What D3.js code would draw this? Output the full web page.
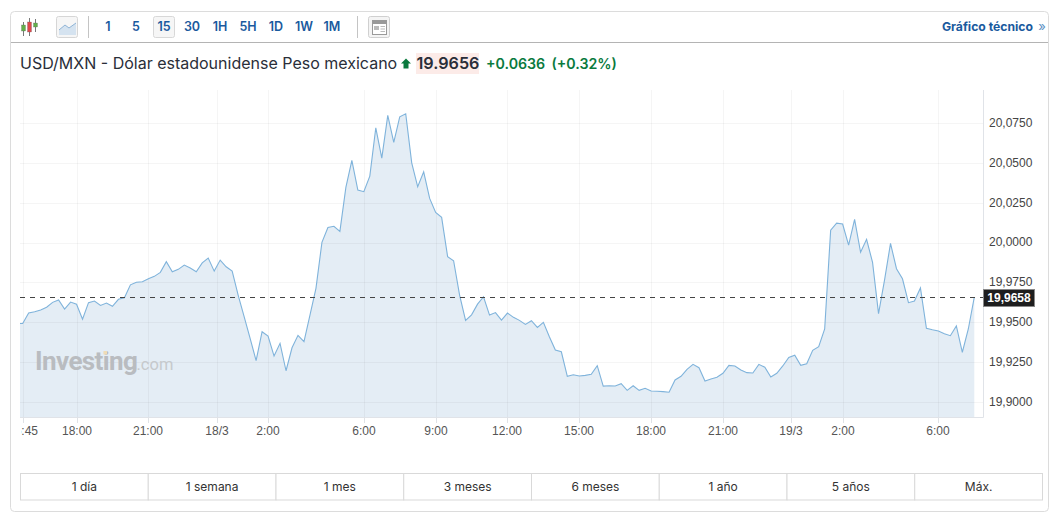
<!DOCTYPE html>
<html><head><meta charset="utf-8">
<script src="https://cdn.jsdelivr.net/npm/d3@7/dist/d3.min.js"></script>
<style>html,body{margin:0;padding:0;background:#fff;overflow:hidden}svg{display:block}
text{font-family:Inter,sans-serif}
.ax text{font-family:"Liberation Sans",Arial,sans-serif}
</style></head><body><svg id="c" width="1059" height="521"></svg>
<script>
const prices = [19.9491,19.9493,19.9558,19.9566,19.9577,19.9594,19.9625,19.9640,19.9583,19.9627,19.9613,
19.9519,19.9623,19.9633,19.9606,19.9621,19.9600,19.9644,19.9654,19.9735,19.9751,
19.9754,19.9773,19.9788,19.9813,19.9880,19.9817,19.9832,19.9859,19.9840,19.9817,
19.9873,19.9903,19.9821,19.9890,19.9848,19.9821,19.9671,19.9535,19.9399,19.9260,
19.9441,19.9414,19.9288,19.9368,19.9196,19.9340,19.9418,19.9378,19.9545,19.9713,
20.0001,20.0095,20.0102,20.0070,20.0346,20.0515,20.0329,20.0319,20.0417,20.0720,
20.0530,20.0798,20.0628,20.0789,20.0808,20.0500,20.0350,20.0444,20.0277,20.0189,
20.0158,19.9912,19.9886,19.9671,19.9512,19.9547,19.9614,19.9660,19.9545,19.9561,
19.9514,19.9558,19.9531,19.9512,19.9487,19.9510,19.9468,19.9500,19.9409,19.9326,
19.9315,19.9161,19.9171,19.9163,19.9167,19.9174,19.9228,19.9100,19.9102,19.9100,
19.9115,19.9073,19.9102,19.9073,19.9086,19.9069,19.9067,19.9065,19.9061,19.9138,
19.9161,19.9205,19.9236,19.9215,19.9132,19.9144,19.9155,19.9180,19.9230,19.9226,
19.9201,19.9184,19.9182,19.9236,19.9218,19.9157,19.9180,19.9226,19.9280,19.9293,
19.9230,19.9240,19.9324,19.9347,19.9458,20.0078,20.0122,20.0116,19.9984,20.0146,
19.9939,20.0020,19.9876,19.9554,19.9765,19.9995,19.9836,19.9773,19.9623,19.9633,
19.9715,19.9462,19.9453,19.9445,19.9428,19.9416,19.9477,19.9312,19.9458,19.9658];
const yTicks = [19.9,19.925,19.95,19.975,20,20.025,20.05,20.075];
const xTickPos = [1,10,22,33.5,42,58,70,82,94,106,118,129.4,138,154];
const xTickLabels = ["15:45","18:00","21:00","18/3","2:00","6:00","9:00","12:00","15:00","18:00","21:00","19/3","2:00","6:00"];
const intervals = ["1","5","15","30","1H","5H","1D","1W","1M"];
const ranges = ["1 día","1 semana","1 mes","3 meses","6 meses","1 año","5 años","Máx."];
const lastPrice = 19.9658;

const svg = d3.select("#c");
const L=20,R=983,T=90,B=417;
const x = d3.scaleLinear().domain([0,prices.length-1]).range([16.7,974.3]);
const y = d3.scaleLinear().domain([19.9,20.075]).range([402,123]);
const fmt = v => d3.format(".4f")(v).replace(".",",");

// card
svg.append("rect").attr("x",10.5).attr("y",11.5).attr("width",1038).attr("height",500).attr("rx",4).attr("fill","#fff").attr("stroke","#dcdcdc");
svg.append("line").attr("x1",11).attr("x2",1048).attr("y1",42.5).attr("y2",42.5).attr("stroke","#b4b4b4");

// toolbar icons
const cand = svg.append("g");
[[23.5,"#62b04a",22,36,25,31],[29.5,"#e0474a",18,36,22,32],[35.5,"#62b04a",19,32,23,27]].forEach(c=>{
  cand.append("line").attr("x1",c[0]).attr("x2",c[0]).attr("y1",c[2]).attr("y2",c[3]).attr("stroke","#555").attr("stroke-width",.8);
  cand.append("rect").attr("x",c[0]-2).attr("y",c[4]).attr("width",4).attr("height",c[5]-c[4]).attr("fill",c[1]).attr("stroke","#666").attr("stroke-width",.3);
});
svg.append("rect").attr("x",56.5).attr("y",16.5).attr("width",21).attr("height",21).attr("rx",2).attr("fill","#f6f6f6").attr("stroke","#d6d6d6");
svg.append("path").attr("d","M59 33L59 30L65 25L69 28L76 23L76 35L59 35Z").attr("fill","#d5e3f0");
svg.append("path").attr("d","M59 30L65 25L69 28L76 23").attr("fill","none").attr("stroke","#8fb4d6");
[88.5,357.5].forEach(v=>svg.append("line").attr("x1",v).attr("x2",v).attr("y1",16).attr("y2",38).attr("stroke","#c4c4c4"));
svg.append("rect").attr("x",153.5).attr("y",16.5).attr("width",21).attr("height",21).attr("rx",2).attr("fill","#f6f6f6").attr("stroke","#d8d8d8");
const iv = d3.scalePoint().domain(intervals).range([108,332]);
svg.selectAll(".iv").data(intervals).join("text").attr("x",d=>iv(d)).attr("y",31)
  .attr("text-anchor","middle").attr("font-size",12.5).attr("font-weight",600).attr("fill","#1a5a9e").text(d=>d);
svg.append("rect").attr("x",368.5).attr("y",16.5).attr("width",21).attr("height",21).attr("rx",2).attr("fill","#f4f4f4").attr("stroke","#d0d0d0");
svg.append("rect").attr("x",372.5).attr("y",20.5).attr("width",14).attr("height",14).attr("fill","#fff").attr("stroke","#9a9a9a");
svg.append("rect").attr("x",373).attr("y",21).attr("width",13).attr("height",3).attr("fill","#999");
svg.append("rect").attr("x",374).attr("y",26).attr("width",5).attr("height",4).attr("fill","#bbb");
[26,28.5,31].forEach(v=>svg.append("line").attr("x1",380.5).attr("x2",385).attr("y1",v+.5).attr("y2",v+.5).attr("stroke","#bbb"));
svg.append("text").attr("x",1033).attr("y",31).attr("text-anchor","end").attr("font-size",12.2).attr("font-weight",700).attr("fill","#1a5a9e").text("Gráfico técnico");
svg.append("text").attr("x",1042).attr("y",31).attr("text-anchor","middle").attr("font-size",13).attr("fill","#5a8fc4").text("»");

// title
svg.append("text").attr("x",20).attr("y",69).attr("font-size",16).attr("fill","#2a2e39").text("USD/MXN - Dólar estadounidense Peso mexicano");
svg.append("path").attr("d","M406 58.5L411 63.5L408.5 63.5L408.5 68.5L403.5 68.5L403.5 63.5L401 63.5Z").attr("fill","#0a7a3e");
svg.append("rect").attr("x",416).attr("y",53).attr("width",63).attr("height",21).attr("fill","#fcebe8");
svg.append("text").attr("x",416.5).attr("y",69).attr("font-size",16.2).attr("font-weight",600).attr("fill","#2a2e39").text("19.9656");
svg.append("text").attr("x",486).attr("y",69).attr("font-size",14.2).attr("font-weight",600).attr("fill","#0a7a3e").text("+0.0636");
svg.append("text").attr("x",551.5).attr("y",69).attr("font-size",14.2).attr("font-weight",600).attr("fill","#0a7a3e").text("(+0.32%)");

// plot clip
svg.append("clipPath").attr("id","pl").append("rect").attr("x",L).attr("y",T).attr("width",R-L).attr("height",B-T);
svg.append("clipPath").attr("id","xl").append("rect").attr("x",L+1).attr("y",B).attr("width",R-L+60).attr("height",30);

// area + line
const plot = svg.append("g").attr("clip-path","url(#pl)");
const idx = prices.map((d,i)=>i);
plot.append("path").datum(idx).attr("fill","#e4edf5")
  .attr("d",d3.area().x(i=>x(i)).y0(B).y1(i=>y(prices[i])));

// grid
plot.selectAll(".gy").data(yTicks).join("line").attr("x1",L).attr("x2",R)
  .attr("y1",d=>Math.round(y(d))+.5).attr("y2",d=>Math.round(y(d))+.5).attr("stroke","#000").attr("stroke-opacity",.04);
plot.selectAll(".gx").data(xTickPos).join("line").attr("y1",T).attr("y2",B)
  .attr("x1",d=>Math.round(x(d))+.5).attr("x2",d=>Math.round(x(d))+.5).attr("stroke","#000").attr("stroke-opacity",.04);

plot.append("path").datum(idx).attr("fill","none").attr("stroke","#7fb3db").attr("stroke-width",1.1)
  .attr("d",d3.line().x(i=>x(i)).y(i=>y(prices[i])));

// watermark
svg.append("text").attr("x",35).attr("y",370).style("font-family","Roboto,sans-serif").attr("font-size",26).attr("font-weight",700).attr("letter-spacing",-.6).attr("fill","#b9bcc0").text("Investing");
svg.append("text").attr("x",136.5).attr("y",370).style("font-family","Roboto,sans-serif").attr("font-size",16.5).attr("fill","#c6c9cc").text(".com");
svg.append("rect").attr("x",103.5).attr("y",351).attr("width",3.5).attr("height",3.5).attr("fill","#efdcb6");

// axes
const axY = svg.append("g").attr("class","ax").attr("transform",`translate(${R+.5},-0.5)`)
  .call(d3.axisRight(y).tickValues(yTicks).tickSize(0).tickPadding(5.5).tickFormat(fmt));
axY.select(".domain").remove();
axY.selectAll("text").attr("font-size",12).attr("fill","#444");
svg.append("line").attr("x1",R+.5).attr("x2",R+.5).attr("y1",T).attr("y2",B+.5).attr("stroke","#e0e3e8");
svg.append("line").attr("x1",L).attr("x2",R+.5).attr("y1",B+.5).attr("y2",B+.5).attr("stroke","#e0e3e8");

const axX = svg.append("g").attr("class","ax").attr("clip-path","url(#xl)");
xTickPos.forEach((p,i)=>{
  const g=axX.append("g").attr("transform",`translate(${Math.round(x(p))+.5},${B})`);
  g.append("line").attr("y1",0).attr("y2",6).attr("stroke","#dfe2e6");
  g.append("text").attr("x",-.5).attr("y",17.5).attr("text-anchor","middle").attr("font-size",12).attr("fill","#555").text(xTickLabels[i]);
});

// last price
svg.append("line").attr("x1",L).attr("x2",R).attr("y1",Math.round(y(lastPrice))+.5).attr("y2",Math.round(y(lastPrice))+.5)
  .attr("stroke","#444").attr("stroke-dasharray","5,5");
svg.append("rect").attr("x",983.5).attr("y",289.5).attr("width",51).attr("height",17).attr("fill","#1e1e1e").attr("stroke","#888");
svg.append("text").attr("x",1009).attr("y",302).attr("text-anchor","middle").style("font-family","'Liberation Sans',Arial,sans-serif").attr("font-size",12).attr("font-weight",700).attr("fill","#fff").text(fmt(lastPrice));

// range buttons
const rb = d3.scaleBand().domain(ranges).range([20.5,1042.5]);
svg.selectAll(".rb").data(ranges).join("rect").attr("x",d=>rb(d)).attr("y",473.5).attr("width",rb.bandwidth()).attr("height",26.5)
  .attr("fill","#fff").attr("stroke","#d9d9d9");
svg.selectAll(".rt").data(ranges).join("text").attr("x",d=>rb(d)+rb.bandwidth()/2).attr("y",491).attr("text-anchor","middle")
  .attr("font-size",12).attr("fill","#333").text(d=>d);
</script></body></html>
